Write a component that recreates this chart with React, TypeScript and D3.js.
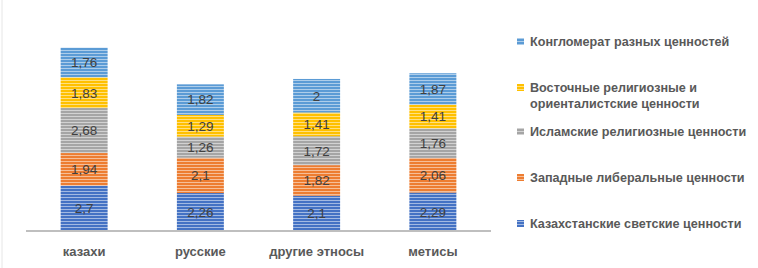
import React from "react";
import * as d3 from "d3";

const categories = ["казахи", "русские", "другие этносы", "метисы"];
const seriesNames = [
  "Казахстанские светские ценности",
  "Западные либеральные ценности",
  "Исламские религиозные ценности",
  "Восточные религиозные и ориенталистские ценности",
  "Конгломерат разных ценностей",
];
const kazakhSecular = [2.7, 2.26, 2.1, 2.29];
const westernLiberal = [1.94, 2.1, 1.82, 2.06];
const islamic = [2.68, 1.26, 1.72, 1.76];
const eastern = [1.83, 1.29, 1.41, 1.41];
const conglomerate = [1.76, 1.82, 2, 1.87];
const colors = ["#4472C4", "#ED7D31", "#A5A5A5", "#FFC000", "#5B9BD5"];

const legendLines = [
  ["Конгломерат разных ценностей"],
  ["Восточные религиозные и", "ориенталистские ценности"],
  ["Исламские религиозные ценности"],
  ["Западные либеральные ценности"],
  ["Казахстанские светские ценности"],
];
const legendSeries = [4, 3, 2, 1, 0];
const legendY = [42, 88, 132, 178, 224];

const fmt = (v: number) => String(v).replace(".", ",");

function App(): JSX.Element {
  const width = 758;
  const height = 268;
  const values = [kazakhSecular, westernLiberal, islamic, eastern, conglomerate];
  const rows = categories.map((c, i) => {
    const r: Record<string, number | string> = { cat: c };
    values.forEach((s, k) => (r["s" + k] = s[i]));
    return r;
  });
  const stack = d3.stack<Record<string, number | string>>().keys(values.map((_, k) => "s" + k))(rows);

  const x = d3.scaleBand().domain(categories).range([26, 491]).paddingInner(0.596).paddingOuter(0.298);
  const y = d3.scaleLinear().domain([0, 12]).range([231, 231 - 12 * 16.8]);

  const font = "'Liberation Sans', Arial, sans-serif";

  return (
    <svg width={width} height={height} style={{ position: "absolute", left: 0, top: 0, background: "#fff" }}>
      <defs>
        {colors.map((c, i) => (
          <pattern key={i} id={"stripe" + i} width={4} height={3} patternUnits="userSpaceOnUse">
            <rect width={4} height={3} fill={c} />
            <rect y={2} width={4} height={1} fill="#fff" opacity={0.5} />
          </pattern>
        ))}
      </defs>
      <line x1={2} x2={2} y1={0} y2={height} stroke="#e6e6e6" strokeWidth={1} />
      {stack.map((layer, k) => (
        <g key={k}>
          {layer.map((d, i) => (
            <g key={i}>
              <rect
                x={x(categories[i])}
                y={y(d[1])}
                width={x.bandwidth()}
                height={y(d[0]) - y(d[1])}
                fill={`url(#stripe${k})`}
              />
              <text
                x={x(categories[i])! + x.bandwidth() / 2}
                y={(y(d[0]) + y(d[1])) / 2}
                dy="0.36em"
                textAnchor="middle"
                fontFamily={font}
                fontSize={13.5}
                fill="#404040"
              >
                {fmt(values[k][i])}
              </text>
            </g>
          ))}
        </g>
      ))}
      <line x1={26} x2={491} y1={231} y2={231} stroke="#bfbfbf" strokeWidth={2} />
      {categories.map((c) => (
        <text
          key={c}
          x={x(c)! + x.bandwidth() / 2}
          y={256}
          textAnchor="middle"
          fontFamily={font}
          fontWeight="bold"
          fontSize={13}
          fill="#595959"
        >
          {c}
        </text>
      ))}
      {legendSeries.map((s, i) => (
        <g key={s}>
          <rect x={517} y={legendY[i] - 4} width={7} height={7} fill={`url(#stripe${s})`} />
          {legendLines[i].map((line, j) => (
            <text
              key={j}
              x={530}
              y={legendY[i] + j * 16}
              dy="0.35em"
              fontFamily={font}
              fontWeight="bold"
              fontSize={12.6}
              fill="#595959"
            >
              {line}
            </text>
          ))}
        </g>
      ))}
    </svg>
  );
}

export default App;
